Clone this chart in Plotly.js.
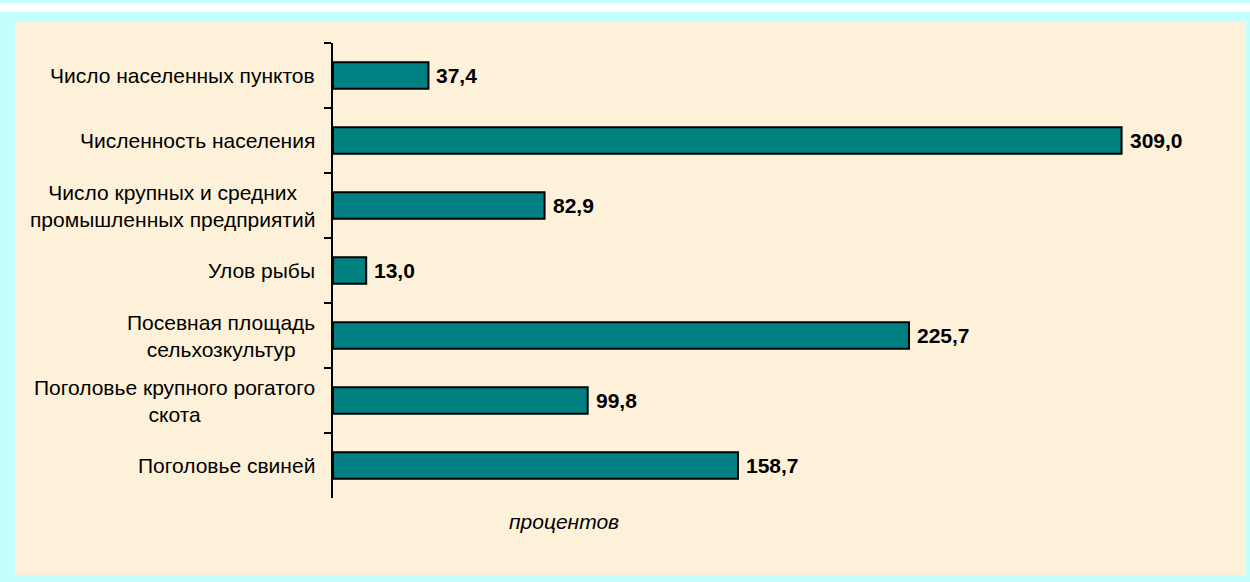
<!DOCTYPE html>
<html>
<head>
<meta charset="utf-8">
<script src="https://cdn.plot.ly/plotly-3.0.1.min.js"></script>
<style>
  html, body { margin: 0; padding: 0; background: #c4ffff; }
  #chart { width: 1250px; height: 582px; }
</style>
</head>
<body>
<div id="chart"></div>
<script>
const categories = [
    'Число населенных пунктов',
    'Численность населения',
    'Число крупных и средних<br>промышленных предприятий',
    'Улов рыбы',
    'Посевная площадь<br>сельхозкультур',
    'Поголовье крупного рогатого<br>скота',
    'Поголовье свиней'
];
const values = [37.4, 309.0, 82.9, 13.0, 225.7, 99.8, 158.7];
const unitLabel = 'процентов';

let bar_col = '#008080'
let font_fam = '"Liberation Sans", Arial, sans-serif'

// page geometry, px
const W = 1250, H = 582;
const mL = 333, mR = 50, mT = 43, mB = 84;
const plotW = W - mL - mR, plotH = H - mT - mB;
const px = x => (x - mL) / plotW;
const py = y => (H - mB - y) / plotH;

// value labels formatted with comma
const valueText = values.map(v => v.toFixed(1).replace('.', ','));

const barTrace = {
    type: 'bar',
    orientation: 'h',
    x: values,
    y: categories,
    marker: { color: bar_col, line: { color: '#000', width: 2 } },
    hoverinfo: 'skip'
};

// category labels, centered lines, right edge near the axis
const catAnnotations = categories.map(c => ({
    x: px(317), xref: 'paper', xanchor: 'right',
    y: c, yref: 'y', yanchor: 'middle',
    text: c, showarrow: false, align: 'center',
    font: { family: font_fam, size: 21, color: '#000' }
}));

const valAnnotations = values.map((v, i) => ({
    x: v, xref: 'x', xanchor: 'left', xshift: 6,
    y: categories[i], yref: 'y', yanchor: 'middle',
    text: '<b>' + valueText[i] + '</b>', showarrow: false,
    font: { family: font_fam, size: 21, color: '#000' }
}));

const unitAnnotation = {
    x: px(564), xref: 'paper', xanchor: 'center',
    y: py(521), yref: 'paper', yanchor: 'middle',
    text: '<i>' + unitLabel + '</i>', showarrow: false,
    font: { family: font_fam, size: 21, color: '#000' }
};

const shapes = [
    // white strip at top
    { type: 'rect', xref: 'paper', yref: 'paper', x0: px(0), x1: px(W), y0: py(12), y1: py(3),
      fillcolor: '#ffffff', line: { width: 0 }, layer: 'below' },
    // beige panel
    { type: 'rect', xref: 'paper', yref: 'paper', x0: px(15), x1: px(1246), y0: py(575), y1: py(22),
      fillcolor: '#fdf1d9', line: { width: 0 }, layer: 'below' }
];

const layout = {
    width: W,
    height: H,
    margin: { l: mL, r: mR, t: mT, b: mB, pad: 0 },
    paper_bgcolor: '#c4ffff',
    plot_bgcolor: 'rgba(0,0,0,0)',
    showlegend: false,
    bargap: 0.59,
    font: { family: font_fam, size: 16, color: '#000' },
    xaxis: {
        range: [0, plotW / 2.552],
        showgrid: false, zeroline: false, showline: false,
        showticklabels: false, ticks: ''
    },
    yaxis: {
        type: 'category',
        range: [categories.length - 0.5, -0.5],
        showgrid: false, zeroline: false,
        showline: true, linecolor: '#000', linewidth: 2,
        ticks: 'outside', tickson: 'boundaries', ticklen: 7, tickwidth: 2, tickcolor: '#000',
        showticklabels: false
    },
    shapes,
    annotations: [...catAnnotations, ...valAnnotations, unitAnnotation]
};

Plotly.newPlot('chart', [barTrace], layout, { staticPlot: true });
</script>
</body>
</html>
